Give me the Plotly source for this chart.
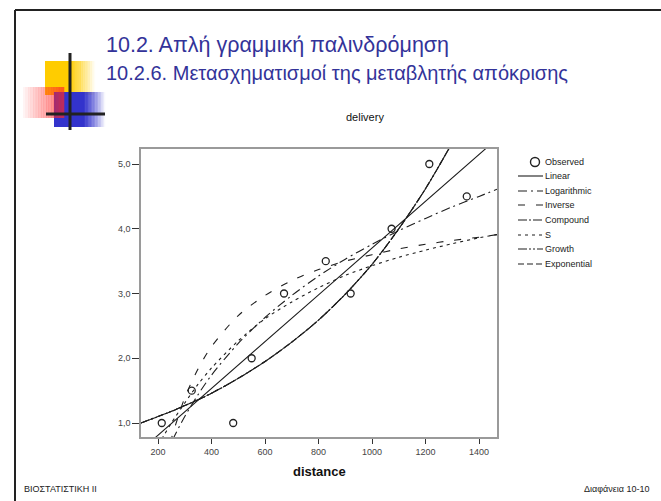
import plotly.graph_objects as go

W, H = 661, 501

# ---------------- data ----------------
distance_obs = [214, 326, 481, 550, 671, 827, 920, 1073, 1214, 1354]
delivery_obs = [1.0, 1.5, 1.0, 2.0, 3.0, 3.5, 3.0, 4.0, 5.0, 4.5]

linear_x = [136, 800, 1467]
linear_y = [0.58, 2.98, 5.39]

log_x = [200, 250, 300, 350, 400, 500, 600, 700, 800, 900, 1000, 1100, 1200, 1300, 1400, 1467]
log_y = [0.20, 0.70, 1.10, 1.44, 1.74, 2.23, 2.63, 2.97, 3.27, 3.53, 3.76, 3.97, 4.16, 4.34, 4.50, 4.61]

inv_x = [230, 250, 300, 350, 400, 500, 600, 700, 800, 900, 1000, 1100, 1200, 1300, 1400, 1467]
inv_y = [0.43, 0.76, 1.39, 1.84, 2.18, 2.66, 2.97, 3.20, 3.37, 3.50, 3.60, 3.69, 3.76, 3.82, 3.87, 3.91]

comp_x = [136, 200, 250, 300, 350, 400, 500, 600, 700, 800, 900, 1000, 1100, 1200, 1300]
comp_y = [1.00, 1.10, 1.18, 1.27, 1.36, 1.46, 1.69, 1.95, 2.25, 2.59, 2.99, 3.45, 4.00, 4.62, 5.33]

s_x = [200, 225, 250, 300, 350, 400, 500, 600, 700, 800, 900, 1000, 1100, 1200, 1300, 1400, 1467]
s_y = [0.66, 0.83, 1.00, 1.31, 1.60, 1.85, 2.27, 2.61, 2.87, 3.09, 3.28, 3.43, 3.56, 3.67, 3.77, 3.86, 3.91]

x_ticks = [200, 400, 600, 800, 1000, 1200, 1400]
x_ticklabels = ["200", "400", "600", "800", "1000", "1200", "1400"]
y_ticks = [1, 2, 3, 4, 5]
y_ticklabels = ["1,0", "2,0", "3,0", "4,0", "5,0"]

legend_labels = ["Observed", "Linear", "Logarithmic", "Inverse", "Compound", "S", "Growth", "Exponential"]

title_main = "10.2. Απλή γραμμική παλινδρόμηση"
title_sub = "10.2.6. Μετασχηματισμοί της μεταβλητής απόκρισης"
chart_title = "delivery"
x_title = "distance"
footer_left = "ΒΙΟΣΤΑΤΙΣΤΙΚΗ ΙΙ"
footer_right = "Διαφάνεια 10-10"

# ---------------- styles ----------------
LC = "#1e1e1e"
LW = 1.1
dash = {
    "Linear": "solid",
    "Logarithmic": "9px,4px,2px,4px",
    "Inverse": "7px,11px",
    "Compound": "9px,2px,2px,2px",
    "S": "3px,4px",
    "Growth": "9px,2px,2px,2px,2px,2px",
    "Exponential": "6px,3px",
}

def px(x):
    return x / W

def py(y):
    return 1 - y / H

# plot area in pixels
L, R, T, B = 141, 497, 149, 437

fig = go.Figure()

def add_curve(xs, ys, name):
    fig.add_trace(go.Scatter(x=xs, y=ys, mode="lines", name=name,
                             line=dict(color=LC, width=LW, dash=dash[name], shape="spline", smoothing=0.8),
                             showlegend=False, hoverinfo="skip"))

add_curve(linear_x, linear_y, "Linear")
add_curve(log_x, log_y, "Logarithmic")
add_curve(inv_x, inv_y, "Inverse")
add_curve(s_x, s_y, "S")
add_curve(comp_x, comp_y, "Compound")
add_curve(comp_x, comp_y, "Growth")
add_curve(comp_x, comp_y, "Exponential")

fig.add_trace(go.Scatter(x=distance_obs, y=delivery_obs, mode="markers", name="Observed",
                         marker=dict(symbol="circle-open", size=7, color="#222", line=dict(width=1.3)),
                         showlegend=False))

shapes = []
annotations = []

# ---- slide frame ----
shapes.append(dict(type="line", xref="paper", yref="paper", x0=px(15), x1=px(15), y0=py(10), y1=py(501),
                   line=dict(color="#222", width=2)))
shapes.append(dict(type="line", xref="paper", yref="paper", x0=px(15), x1=px(661), y0=py(10), y1=py(10),
                   line=dict(color="#222", width=2)))

# ---- decorative squares with fading ----
def grad_rect(x0, x1, y0, y1, rgb, a_start, a_end, n=14, solid_to=None):
    if solid_to is not None:
        shapes.append(dict(type="rect", xref="paper", yref="paper", x0=px(x0), x1=px(solid_to),
                           y0=py(y1), y1=py(y0), line=dict(width=0),
                           fillcolor="rgba(%d,%d,%d,%.3f)" % (rgb + (a_start,))))
        x0 = solid_to
    step = (x1 - x0) / n
    for i in range(n):
        a = a_start + (a_end - a_start) * (i + 0.5) / n
        shapes.append(dict(type="rect", xref="paper", yref="paper", x0=px(x0 + i * step), x1=px(x0 + (i + 1) * step + 0.3),
                           y0=py(y1), y1=py(y0), line=dict(width=0),
                           fillcolor="rgba(%d,%d,%d,%.3f)" % (rgb + (a,))))

grad_rect(45, 95, 61, 95, (255, 204, 0), 1.0, 0.0, solid_to=70)
grad_rect(54, 105, 92, 127, (51, 51, 204), 1.0, 0.0, solid_to=84)
grad_rect(23, 64, 87, 118, (255, 40, 40), 0.03, 0.7, n=16)

shapes.append(dict(type="line", xref="paper", yref="paper", x0=px(70), x1=px(70), y0=py(53), y1=py(130),
                   line=dict(color="#222", width=3)))
shapes.append(dict(type="line", xref="paper", yref="paper", x0=px(46), x1=px(105), y0=py(114), y1=py(114),
                   line=dict(color="#222", width=3)))

# ---- slide titles ----
TITLE_FONT = "Liberation Sans"
annotations.append(dict(text=title_main, x=px(104), y=py(45), xref="paper", yref="paper", xanchor="left",
                        yanchor="middle", showarrow=False, font=dict(family=TITLE_FONT, size=21.5, color="#333399")))
annotations.append(dict(text=title_sub, x=px(104), y=py(73), xref="paper", yref="paper", xanchor="left",
                        yanchor="middle", showarrow=False, font=dict(family=TITLE_FONT, size=20, color="#333399")))

annotations.append(dict(text=chart_title, x=px(365), y=py(117), xref="paper", yref="paper", xanchor="center",
                        yanchor="middle", showarrow=False, font=dict(family="Liberation Sans", size=11, color="#111")))
annotations.append(dict(text="<b>" + x_title + "</b>", x=px(319), y=py(471), xref="paper", yref="paper",
                        xanchor="center", yanchor="middle", showarrow=False,
                        font=dict(family="Liberation Sans", size=13, color="#111")))

annotations.append(dict(text=footer_left, x=px(22), y=py(489), xref="paper", yref="paper", xanchor="left",
                        yanchor="middle", showarrow=False, font=dict(family="Liberation Sans", size=9, color="#222")))
annotations.append(dict(text=footer_right, x=px(652), y=py(489), xref="paper", yref="paper", xanchor="right",
                        yanchor="middle", showarrow=False, font=dict(family="Liberation Sans", size=9, color="#222")))

# ---- legend (drawn manually) ----
leg_y = [162, 176, 191, 205, 220, 235, 249, 264]
for i, lab in enumerate(legend_labels):
    yy = leg_y[i]
    annotations.append(dict(text=lab, x=px(543), y=py(yy), xref="paper", yref="paper", xanchor="left",
                            yanchor="middle", showarrow=False,
                            font=dict(family="Liberation Sans", size=9, color="#222")))
    if lab == "Observed":
        shapes.append(dict(type="circle", xref="paper", yref="paper", x0=px(530.5), x1=px(539.5),
                           y0=py(yy + 4.5), y1=py(yy - 4.5), line=dict(color="#222", width=1.4)))
    else:
        shapes.append(dict(type="line", xref="paper", yref="paper", x0=px(518), x1=px(543),
                           y0=py(yy), y1=py(yy), line=dict(color=LC, width=LW, dash=dash[lab])))

AX_FONT = dict(family="Liberation Sans", size=9, color="#444")
fig.update_layout(
    width=W, height=H,
    margin=dict(l=0, r=0, t=0, b=0),
    paper_bgcolor="white", plot_bgcolor="white",
    showlegend=False,
    shapes=shapes, annotations=annotations,
    xaxis=dict(domain=[L / W, R / W], range=[136.4, 1467], tickvals=x_ticks, ticktext=x_ticklabels,
               showgrid=False, zeroline=False, showline=True, mirror=True, linecolor="#9a9a9a", linewidth=1.5,
               ticks="outside", ticklen=5, tickwidth=1.2, tickcolor="#333", tickfont=AX_FONT),
    yaxis=dict(domain=[1 - B / H, 1 - T / H], range=[0.784, 5.232], tickvals=y_ticks, ticktext=y_ticklabels,
               showgrid=False, zeroline=False, showline=True, mirror=True, linecolor="#9a9a9a", linewidth=1.5,
               ticks="outside", ticklen=7, tickwidth=1.2, tickcolor="#333", tickfont=AX_FONT),
)

fig.write_html("out.html", config={"displayModeBar": False},
               post_script="document.body.style.margin='0';document.body.style.overflow='hidden';")
